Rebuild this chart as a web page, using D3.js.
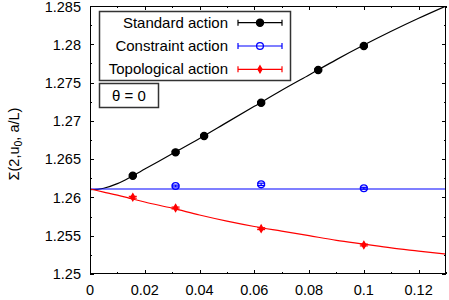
<!DOCTYPE html>
<html>
<head>
<meta charset="utf-8">
<script src="https://cdn.jsdelivr.net/npm/d3@7"></script>
<style>
  body { margin: 0; background: #fff; }
  text { font-family: "Liberation Sans", Arial, sans-serif; fill: #000; }
</style>
</head>
<body>
<div id="chart"></div>
<script>
// lattice spacing a/L
const xStd = [1 / 64, 1 / 32, 1 / 24, 1 / 16, 1 / 12, 1 / 10];
const yStd = [1.26284, 1.26589, 1.26802, 1.27237, 1.27664, 1.27978];
const eStd = [0.00012, 0.00012, 0.00012, 0.00012, 0.00012, 0.00012];

const xCon = [1 / 32, 1 / 16, 1 / 10];
const yCon = [1.26149, 1.26171, 1.26120];
const eCon = [0.00012, 0.00015, 0.00012];

const xTop = [1 / 64, 1 / 32, 1 / 16, 1 / 10];
const yTop = [1.26002, 1.25862, 1.25592, 1.25379];
const eTop = [0.00012, 0.00012, 0.00012, 0.00012];

// fit curves
const fitX = [0, 0.005, 0.01, 0.015, 0.02, 0.03, 0.04, 0.05, 0.06, 0.07, 0.08, 0.09, 0.1, 0.11, 0.12, 0.13];
const fitStd = [1.2610, 1.2612, 1.2618, 1.2627, 1.2637, 1.2657, 1.2677, 1.2698, 1.2719, 1.2740, 1.2760, 1.2780, 1.2799, 1.2817, 1.2834, 1.2850];
const fitCon = [1.2611, 1.2611, 1.2611, 1.2611, 1.2611, 1.2611, 1.2611, 1.2611, 1.2611, 1.2611, 1.2611, 1.2611, 1.2611, 1.2611, 1.2611, 1.2611];
const fitTop = [1.2611, 1.2607, 1.2603, 1.25985, 1.2594, 1.2586, 1.2577, 1.2569, 1.2562, 1.2556, 1.2550, 1.2544, 1.2539, 1.2534, 1.2530, 1.2526];

const xTicks = [0, 0.02, 0.04, 0.06, 0.08, 0.1, 0.12];
const yTicks = [1.25, 1.255, 1.26, 1.265, 1.27, 1.275, 1.28, 1.285];
const legendLabels = ['Standard action', 'Constraint action', 'Topological action'];
const colors = ['#000000', '#0000ff', '#ff0000'];

const width = 449, height = 300;
const margin = { top: 6, right: 3, bottom: 26, left: 90 };

const svg = d3.select('#chart').append('svg')
    .attr('width', width)
    .attr('height', height);

const x = d3.scaleLinear().domain([0, 0.13]).range([margin.left, width - margin.right]);
const y = d3.scaleLinear().domain([1.25, 1.285]).range([height - margin.bottom, margin.top]);

const x0 = x.range()[0], x1 = x.range()[1];
const y0 = y.range()[0], y1 = y.range()[1];

// ticks (inward, mirrored on all sides)
const ticks = svg.append('g').attr('stroke', '#000').attr('stroke-width', 1);
d3.range(0, 0.1301, 0.01).forEach((v, i) => {
    const len = i % 2 === 0 ? 4 : 2;
    const px = Math.round(x(v)) + 0.5;
    ticks.append('line').attr('x1', px).attr('x2', px).attr('y1', y0).attr('y2', y0 - len);
    ticks.append('line').attr('x1', px).attr('x2', px).attr('y1', y1).attr('y2', y1 + len);
});
d3.range(0, 15).forEach(i => {
    const v = 1.25 + i * 0.0025;
    const len = i % 2 === 0 ? 4 : 2;
    const py = Math.round(y(v)) + 0.5;
    ticks.append('line').attr('x1', x0).attr('x2', x0 + len).attr('y1', py).attr('y2', py);
    ticks.append('line').attr('x1', x1).attr('x2', x1 - len).attr('y1', py).attr('y2', py);
});

// tick labels
svg.append('g').selectAll('text')
    .data(xTicks)
    .join('text')
    .attr('x', d => x(d))
    .attr('y', 295)
    .attr('text-anchor', 'middle')
    .attr('font-size', 14.5)
    .text(d => d);

svg.append('g').selectAll('text')
    .data(yTicks)
    .join('text')
    .attr('x', 81)
    .attr('y', d => Math.max(y(d) + 5.3, 12))
    .attr('text-anchor', 'end')
    .attr('font-size', 14.5)
    .text(d => d);

// y axis title
const yl = svg.append('text')
    .attr('transform', 'translate(19,144) rotate(-90)')
    .attr('text-anchor', 'middle')
    .attr('font-size', 14.5);
yl.append('tspan').text('Σ(2,u');
yl.append('tspan').attr('font-size', 10.5).attr('dy', 3).text('0');
yl.append('tspan').attr('dy', -3).text(', a/L)');

// clip to plot frame
svg.append('clipPath').attr('id', 'clip')
    .append('rect').attr('x', x0).attr('y', y1).attr('width', x1 - x0).attr('height', y0 - y1);

const plot = svg.append('g').attr('clip-path', 'url(#clip)');

const line = d3.line().x(d => x(d[0])).y(d => y(d[1])).curve(d3.curveMonotoneX);
[fitStd, fitCon, fitTop].forEach((fit, i) => {
    plot.append('path')
        .datum(fitX.map((v, j) => [v, fit[j]]))
        .attr('d', line)
        .attr('fill', 'none')
        .attr('stroke', colors[i])
        .attr('stroke-width', 1.2);
});

const series = [
    { xs: xStd, ys: yStd, es: eStd, color: colors[0], kind: 'dot' },
    { xs: xCon, ys: yCon, es: eCon, color: colors[1], kind: 'ring' },
    { xs: xTop, ys: yTop, es: eTop, color: colors[2], kind: 'diamond' }
];

const drawMarker = (g, cx, cy, kind, color) => {
    if (kind === 'dot') {
        g.append('circle').attr('cx', cx).attr('cy', cy).attr('r', 3.6).attr('fill', color);
    } else if (kind === 'ring') {
        g.append('circle').attr('cx', cx).attr('cy', cy).attr('r', 3.4)
            .attr('fill', 'none').attr('stroke', color).attr('stroke-width', 1.3);
    } else {
        g.append('path').attr('transform', `translate(${cx},${cy})`)
            .attr('d', d3.symbol(d3.symbolDiamond, 15)()).attr('fill', color);
    }
};

series.forEach(s => {
    const g = plot.append('g').attr('stroke', s.color).attr('stroke-width', 1.2);
    s.xs.forEach((xv, i) => {
        const cx = x(xv);
        const hi = y(s.ys[i] + s.es[i]), lo = y(s.ys[i] - s.es[i]);
        g.append('line').attr('x1', cx).attr('x2', cx).attr('y1', hi).attr('y2', lo);
        g.append('line').attr('x1', cx - 4).attr('x2', cx + 4).attr('y1', hi).attr('y2', hi);
        g.append('line').attr('x1', cx - 4).attr('x2', cx + 4).attr('y1', lo).attr('y2', lo);
        drawMarker(g, cx, y(s.ys[i]), s.kind, s.color);
    });
});

// frame
svg.append('rect')
    .attr('x', x0 + 0.5).attr('y', y1 + 0.5)
    .attr('width', x1 - x0 - 1).attr('height', y0 - y1 - 1)
    .attr('fill', 'none').attr('stroke', '#000').attr('stroke-width', 1);

// legend
const legend = svg.append('g');
legend.append('rect')
    .attr('x', 99.5).attr('y', 11.5).attr('width', 191).attr('height', 69)
    .attr('fill', '#fff').attr('stroke', '#333').attr('stroke-width', 1.5);

legendLabels.forEach((label, i) => {
    const ry = 22.7 + i * 23.3;
    legend.append('text')
        .attr('x', 228).attr('y', ry + 5)
        .attr('text-anchor', 'end')
        .attr('font-size', 15)
        .text(label);
    const g = legend.append('g').attr('stroke', colors[i]).attr('stroke-width', 1.2);
    g.append('line').attr('x1', 238).attr('x2', 282).attr('y1', ry).attr('y2', ry);
    g.append('line').attr('x1', 238).attr('x2', 238).attr('y1', ry - 3).attr('y2', ry + 3);
    g.append('line').attr('x1', 282).attr('x2', 282).attr('y1', ry - 3).attr('y2', ry + 3);
    drawMarker(g, 260, ry, series[i].kind, colors[i]);
});

// theta box
legend.append('rect')
    .attr('x', 99.5).attr('y', 83.5).attr('width', 59).attr('height', 24)
    .attr('fill', '#fff').attr('stroke', '#333').attr('stroke-width', 1.5);
legend.append('text')
    .attr('x', 129).attr('y', 101)
    .attr('text-anchor', 'middle')
    .attr('font-size', 15)
    .text('θ = 0');
</script>
</body>
</html>
